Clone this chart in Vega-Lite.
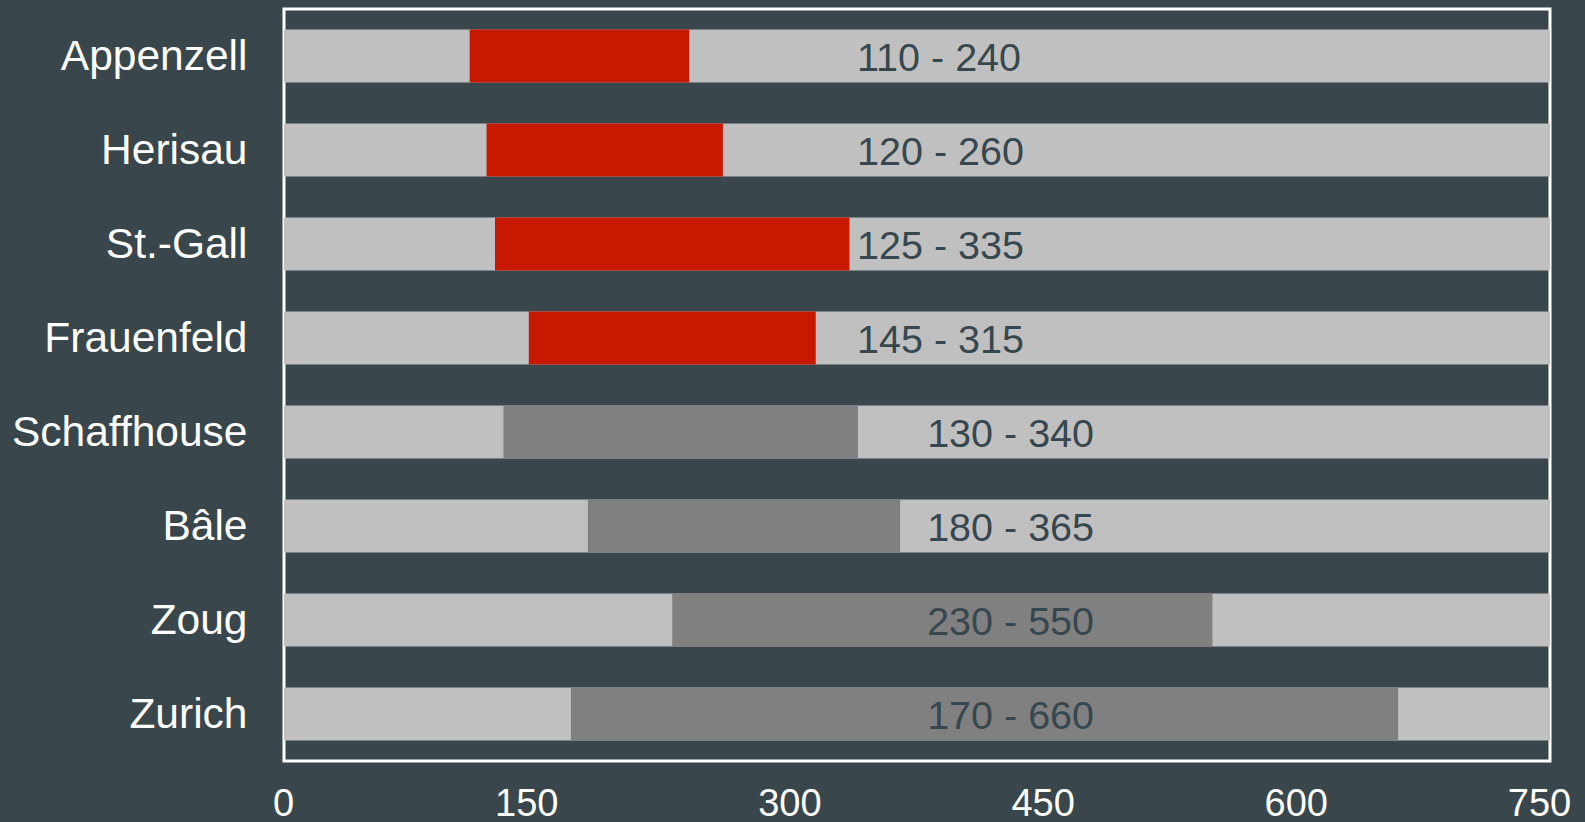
{
  "$schema": "https://vega.github.io/schema/vega-lite/v6.json",
  "autosize": "none",
  "width": 1266,
  "height": 752,
  "padding": {"left": 284, "top": 9, "right": 35, "bottom": 61},
  "background": "#39474c",
  "config": {
    "view": {"stroke": "#ffffff", "strokeWidth": 3},
    "font": "Liberation Sans",
    "axis": {"domain": false, "ticks": false, "tickSize": 0, "grid": false, "labelColor": "#ffffff", "labelFont": "Liberation Sans", "title": null}
  },
  "data": {
    "values": [
      {"city": "Appenzell", "lo": 110, "hi": 240, "label": "110 - 240", "group": "A"},
      {"city": "Herisau", "lo": 120, "hi": 260, "label": "120 - 260", "group": "A"},
      {"city": "St.-Gall", "lo": 125, "hi": 335, "label": "125 - 335", "group": "A"},
      {"city": "Frauenfeld", "lo": 145, "hi": 315, "label": "145 - 315", "group": "A"},
      {"city": "Schaffhouse", "lo": 130, "hi": 340, "label": "130 - 340", "group": "B"},
      {"city": "Bâle", "lo": 180, "hi": 365, "label": "180 - 365", "group": "B"},
      {"city": "Zoug", "lo": 230, "hi": 550, "label": "230 - 550", "group": "B"},
      {"city": "Zurich", "lo": 170, "hi": 660, "label": "170 - 660", "group": "B"}
    ]
  },
  "encoding": {
    "y": {
      "field": "city", "type": "nominal", "sort": null,
      "scale": {"paddingInner": 0.436, "paddingOuter": 0.218},
      "axis": {"labelFontSize": 42.5, "labelPadding": 37, "labelAlign": "right", "labelLimit": 500, "labelOffset": 1}
    }
  },
  "layer": [
    {
      "mark": {"type": "bar", "color": "#c0c0c0"},
      "encoding": {
        "x": {"datum": 0, "type": "quantitative", "scale": {"domain": [0, 750], "nice": false},
          "axis": {"values": [0, 150, 300, 450, 600, 750], "labelFontSize": 38, "labelPadding": 24, "labelFlush": false,
            "labelOffset": {"condition": {"test": "datum.value == 150 || datum.value == 750", "value": -11}, "value": -1}}},
        "x2": {"datum": 750}
      }
    },
    {
      "mark": {"type": "bar"},
      "encoding": {
        "x": {"field": "lo", "type": "quantitative"},
        "x2": {"field": "hi"},
        "color": {"field": "group", "type": "nominal", "scale": {"domain": ["A", "B"], "range": ["#c81900", "#808080"]}, "legend": null}
      }
    },
    {
      "transform": [{"filter": "datum.group == 'A'"}],
      "mark": {"type": "text", "align": "left", "baseline": "middle", "fontSize": 39.5, "color": "#37474f", "dy": 3},
      "encoding": {
        "x": {"datum": 339.5, "type": "quantitative"},
        "text": {"field": "label"}
      }
    },
    {
      "transform": [{"filter": "datum.group == 'B'"}],
      "mark": {"type": "text", "align": "left", "baseline": "middle", "fontSize": 39.5, "color": "#37474f", "dy": 3},
      "encoding": {
        "x": {"datum": 381, "type": "quantitative"},
        "text": {"field": "label"}
      }
    }
  ]
}
